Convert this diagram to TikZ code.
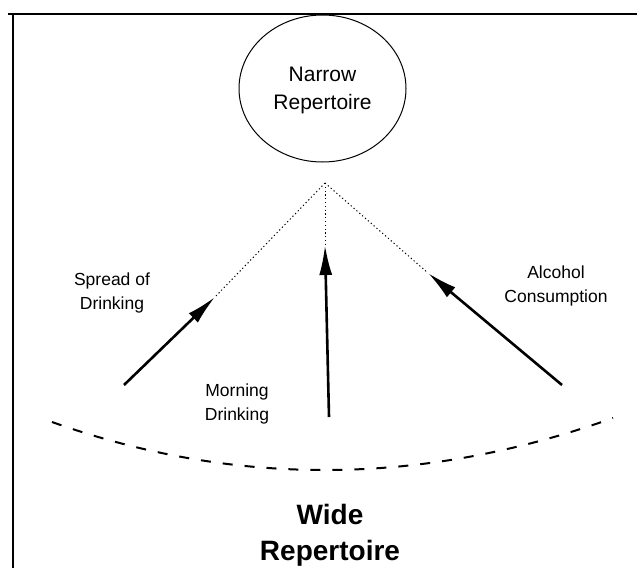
\documentclass[tikz,border=0pt]{standalone}
\usepackage{fontspec}
\setmainfont{Liberation Sans}
\usetikzlibrary{arrows.meta,shapes.geometric}
\begin{document}
\begin{tikzpicture}[x=1pt,y=-1pt,
  lbl/.style={align=center,inner sep=0pt,font=\fontsize{17.5}{24}\selectfont},
  mainarrow/.style={line width=2.6pt,-{Latex[length=30pt,width=13pt]}},
  dotline/.style={line width=1pt,dash pattern=on 1.2pt off 2.6pt},
  frame/.style={line width=2.2pt}]
\useasboundingbox (0,0) rectangle (637,568);
% frame
\coordinate (ftl) at (13,14);
\coordinate (ftr) at (637,14);
\coordinate (fbl) at (13,568);
\coordinate (fst) at (8,14);
\draw[frame] (fst) -- (ftr);
\draw[frame] (ftl) -- (fbl);
% narrow repertoire
\node[ellipse,draw,line width=1pt,minimum width=167pt,minimum height=147pt,inner sep=0pt] (narrow) at (322.5,88.5) {};
\node[align=center,inner sep=0pt,font=\fontsize{21}{28}\selectfont] (narrowtxt) at (322.5,90) {Narrow\\Repertoire};
% apex and arrows
\coordinate (apex) at (325,183);
\coordinate (ltip) at (215,297);
\coordinate (lstart) at (124,385);
\coordinate (mtip) at (325,245);
\coordinate (mstart) at (329,417);
\coordinate (rtip) at (428,273);
\coordinate (rstart) at (562,385);
\draw[dotline] (apex) -- (ltip);
\draw[dotline] (apex) -- (mtip);
\draw[dotline] (apex) -- (rtip);
\draw[mainarrow] (lstart) -- (ltip);
\draw[mainarrow] (mstart) -- (mtip);
\draw[mainarrow] (rstart) -- (rtip);
% labels
\node[lbl] (spread) at (112,293) {Spread of\\Drinking};
\node[lbl] (alcohol) at (556,286) {Alcohol\\Consumption};
\node[lbl] (morning) at (237,404) {Morning\\Drinking};
% dashed boundary
\coordinate (cl) at (52,422);
\coordinate (cr) at (613,418);
\draw[line width=2pt,dash pattern=on 10pt off 12pt] (cl) .. controls (235.7,487.3) and (422.7,486) .. (cr);
% wide repertoire
\node[align=center,inner sep=0pt,font=\bfseries\fontsize{28}{36}\selectfont] (wide) at (330,535) {Wide\\Repertoire};
\end{tikzpicture}
\end{document}
